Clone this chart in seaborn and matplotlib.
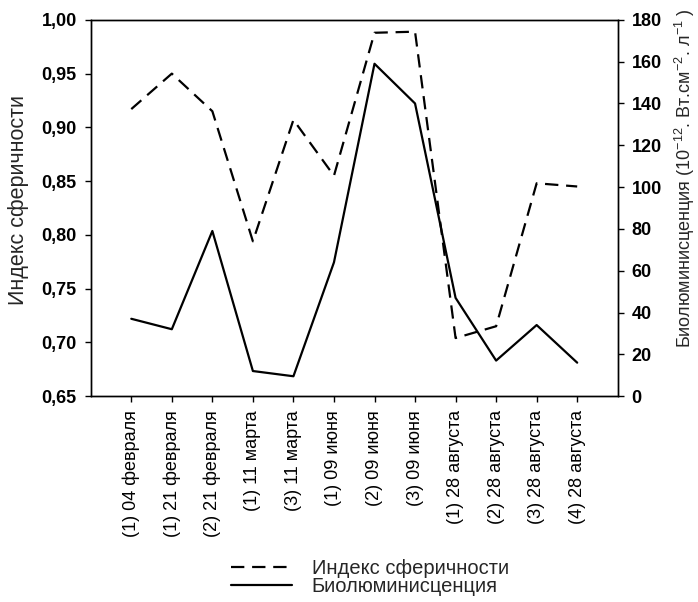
import numpy as np
import pandas as pd
import matplotlib
matplotlib.use("Agg")
import matplotlib.pyplot as plt
import seaborn as sns
from matplotlib.ticker import FuncFormatter
from matplotlib.lines import Line2D

categories = ["(1) 04 февраля", "(1) 21 февраля", "(2) 21 февраля", "(1) 11 марта",
              "(3) 11 марта", "(1) 09 июня", "(2) 09 июня", "(3) 09 июня",
              "(1) 28 августа", "(2) 28 августа", "(3) 28 августа", "(4) 28 августа"]
sphericity = [0.917, 0.950, 0.915, 0.794, 0.907, 0.855, 0.988, 0.989, 0.704, 0.715, 0.848, 0.845]
biolum = [37, 32, 79, 12, 9.5, 64, 159, 140, 47, 17, 34, 16]

sns.set_theme(style="ticks")
plt.rcParams['font.family'] = ['Liberation Sans', 'DejaVu Sans']
plt.rcParams['mathtext.default'] = 'regular'

df = pd.DataFrame({"pos": np.arange(len(categories)), "sph": sphericity, "bio": biolum})

fig = plt.figure(figsize=(6.98, 6.02), dpi=100)
ax = fig.add_axes([0.130, 0.342, 0.755, 0.625])
ax2 = ax.twinx()

dash = (0, (6, 3.5))
sns.lineplot(data=df, x="pos", y="sph", ax=ax, color="black", lw=1.6, linestyle=dash)
sns.lineplot(data=df, x="pos", y="bio", ax=ax2, color="black", lw=1.6)

ax.set_xlim(-1, len(categories))
ax.set_ylim(0.65, 1.00)
ax.set_yticks(np.arange(0.65, 1.001, 0.05))
ax.yaxis.set_major_formatter(FuncFormatter(lambda v, p: f"{v:.2f}".replace(".", ",")))
ax2.set_ylim(0, 180)
ax2.set_yticks(np.arange(0, 181, 20))

ax.set_xticks(df["pos"])
ax.set_xticklabels(categories, rotation=90, fontsize=13)
for lab in ax.get_yticklabels() + ax2.get_yticklabels():
    lab.set_fontweight("bold")
    lab.set_fontsize(13)

ax.set_xlabel("")
ax.set_ylabel("Индекс сферичности", fontsize=15.5)
ax.yaxis.set_label_coords(-0.118, 0.52)
ax2.set_ylabel("Биолюминисценция (10$^{-12}$. Вт.см$^{-2}$. л$^{-1}$ )", fontsize=13)
ax2.yaxis.set_label_coords(1.105, 0.58)

for a in (ax, ax2):
    for s in a.spines.values():
        s.set_linewidth(1.0)
        s.set_color("black")
    a.tick_params(colors="black", width=1.0, length=4, pad=6)

handles = [Line2D([], [], color="black", lw=1.6, linestyle=dash),
           Line2D([], [], color="black", lw=1.6)]
fig.legend(handles, ["Индекс сферичности", "Биолюминисценция"], loc="lower center",
           bbox_to_anchor=(0.53, -0.004), frameon=False, fontsize=14.5,
           handlelength=3.0, labelspacing=-0.05, handletextpad=1.0, borderaxespad=0)

fig.savefig("out.png", dpi=100)
